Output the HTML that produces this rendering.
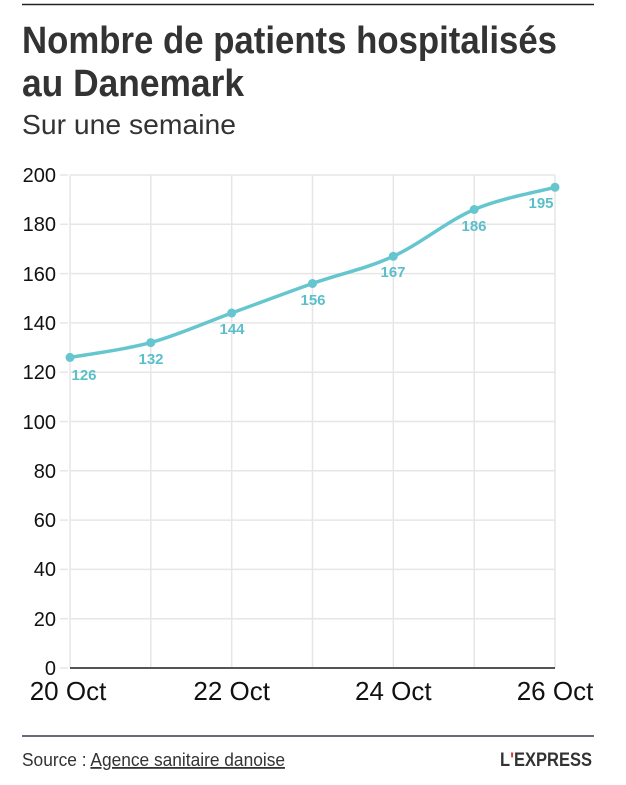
<!DOCTYPE html>
<html><head><meta charset="utf-8"><style>
body{margin:0;background:#fff;width:626px;height:780px;overflow:hidden;font-family:"Liberation Sans",sans-serif;}
</style></head><body>
<svg width="626" height="780" xmlns="http://www.w3.org/2000/svg" font-family="'Liberation Sans',sans-serif">
<line x1="22" y1="4.5" x2="594" y2="4.5" stroke="#222" stroke-width="1.5"/>
<text x="22" y="53" font-size="38" font-weight="bold" fill="#333" textLength="535" lengthAdjust="spacingAndGlyphs">Nombre de patients hospitalisés</text>
<text x="22" y="96" font-size="38" font-weight="bold" fill="#333" textLength="222" lengthAdjust="spacingAndGlyphs">au Danemark</text>
<text x="22" y="134" font-size="28" fill="#333" textLength="214" lengthAdjust="spacingAndGlyphs">Sur une semaine</text>
<g stroke="#e6e6e6" stroke-width="1.5">
<line x1="70" y1="175" x2="555" y2="175"/><line x1="70" y1="224.3" x2="555" y2="224.3"/><line x1="70" y1="273.6" x2="555" y2="273.6"/><line x1="70" y1="322.9" x2="555" y2="322.9"/><line x1="70" y1="372.2" x2="555" y2="372.2"/><line x1="70" y1="421.5" x2="555" y2="421.5"/><line x1="70" y1="470.8" x2="555" y2="470.8"/><line x1="70" y1="520.1" x2="555" y2="520.1"/><line x1="70" y1="569.4" x2="555" y2="569.4"/><line x1="70" y1="618.7" x2="555" y2="618.7"/>
<line x1="60" y1="175" x2="68" y2="175"/><line x1="60" y1="224.3" x2="68" y2="224.3"/><line x1="60" y1="273.6" x2="68" y2="273.6"/><line x1="60" y1="322.9" x2="68" y2="322.9"/><line x1="60" y1="372.2" x2="68" y2="372.2"/><line x1="60" y1="421.5" x2="68" y2="421.5"/><line x1="60" y1="470.8" x2="68" y2="470.8"/><line x1="60" y1="520.1" x2="68" y2="520.1"/><line x1="60" y1="569.4" x2="68" y2="569.4"/><line x1="60" y1="618.7" x2="68" y2="618.7"/><line x1="60" y1="668" x2="68" y2="668"/>
<line x1="70" y1="175" x2="70" y2="668"/><line x1="150.8" y1="175" x2="150.8" y2="668"/><line x1="231.7" y1="175" x2="231.7" y2="668"/><line x1="312.5" y1="175" x2="312.5" y2="668"/><line x1="393.3" y1="175" x2="393.3" y2="668"/><line x1="474.2" y1="175" x2="474.2" y2="668"/><line x1="555" y1="175" x2="555" y2="668"/>
</g>
<line x1="70" y1="668" x2="555" y2="668" stroke="#555" stroke-width="2"/>
<g font-size="20" fill="#111" text-anchor="end">
<text x="56" y="182">200</text><text x="56" y="231">180</text><text x="56" y="281">160</text><text x="56" y="330">140</text><text x="56" y="379">120</text><text x="56" y="429">100</text><text x="56" y="478">80</text><text x="56" y="527">60</text><text x="56" y="576">40</text><text x="56" y="626">20</text><text x="56" y="675">0</text>
</g>
<g font-size="26" fill="#111" text-anchor="middle">
<text x="68" y="700">20 Oct</text><text x="231.7" y="700">22 Oct</text><text x="393.3" y="700">24 Oct</text><text x="555" y="700">26 Oct</text>
</g>
<path d="M70,357.4 C83.5,354.9 123.9,350 150.8,342.6 C177.7,335.2 204.8,322.9 231.7,313 C258.6,303.2 285.6,293 312.5,283.5 C339.4,274.1 366.4,268.6 393.3,256.3 C420.2,244 447.3,221 474.2,209.5 C501.1,198 541.5,191 555,187.3" fill="none" stroke="#65c6cf" stroke-width="3.5"/>
<g fill="#65c6cf">
<circle cx="70" cy="357.4" r="4.5"/><circle cx="150.8" cy="342.6" r="4.5"/><circle cx="231.7" cy="313" r="4.5"/><circle cx="312.5" cy="283.5" r="4.5"/><circle cx="393.3" cy="256.3" r="4.5"/><circle cx="474.2" cy="209.5" r="4.5"/><circle cx="555" cy="187.3" r="4.5"/>
</g>
<g font-size="15" font-weight="bold" fill="#5bbfc9" text-anchor="middle">
<text x="84" y="380">126</text><text x="151" y="364">132</text><text x="232" y="334">144</text><text x="313" y="305">156</text><text x="393" y="277">167</text><text x="474" y="231">186</text><text x="541" y="208">195</text>
</g>
<line x1="22" y1="736" x2="594" y2="736" stroke="#111133" stroke-width="1.2"/>
<text x="22" y="766" font-size="18" fill="#333" textLength="263" lengthAdjust="spacingAndGlyphs">Source : <tspan text-decoration="underline">Agence sanitaire danoise</tspan></text>
<text x="592" y="766" font-size="19" font-weight="bold" fill="#333" text-anchor="end" textLength="92" lengthAdjust="spacingAndGlyphs">L<tspan fill="#e03a2f">'</tspan>EXPRESS</text>
</svg>
</body></html>
